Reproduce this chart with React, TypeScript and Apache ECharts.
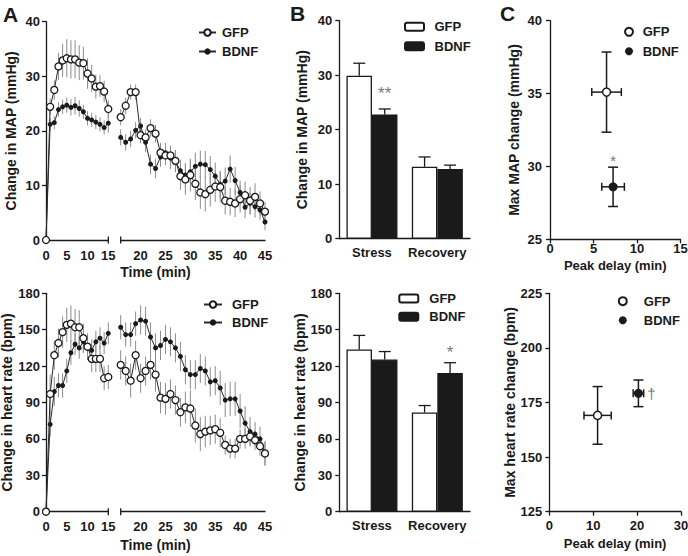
import React, { useEffect, useRef } from 'react';
import * as echarts from 'echarts';

// ---------- Panel A: time courses ----------
const timeStress = [0, 1, 2, 3, 4, 5, 6, 7, 8, 9, 10, 11, 12, 13, 14, 15];
const timeRecovery = [16, 17, 18, 19, 20, 21, 22, 23, 24, 25, 26, 27, 28, 29, 30, 31, 32, 33, 34, 35, 36, 37, 38, 39, 40, 41, 42, 43, 44, 45];
const recoveryTickLabels = [20, 25, 30, 35, 40, 45];

const mapGfpStress = [0, 24.4, 27.5, 31.8, 32.9, 33.3, 33.1, 33.1, 32.5, 32.4, 30.5, 29.6, 28.1, 28.2, 27.2, 24.0];
const mapGfpStressErr = [0, 1.5, 1.8, 2.5, 3.0, 3.5, 3.5, 3.5, 3.2, 3.0, 2.8, 2.5, 2.2, 2.0, 2.0, 1.6];
const mapBdnfStress = [0, 21.2, 21.5, 23.9, 24.4, 24.7, 24.3, 24.6, 24.1, 23.5, 22.3, 22.0, 21.6, 21.2, 20.6, 21.4];
const mapBdnfStressErr = [0, 1.2, 1.2, 1.3, 1.3, 1.4, 1.5, 1.6, 1.5, 1.3, 1.3, 1.3, 1.3, 1.3, 1.3, 1.7];
const mapGfpRecovery = [22.5, 24.6, 27.1, 27.1, 19.2, 18.8, 20.5, 19.5, 16.0, 15.5, 15.5, 14.5, 11.7, 11.1, 11.9, 10.3, 8.7, 8.4, 9.2, 9.8, 9.7, 7.2, 7.0, 6.7, 7.5, 8.2, 7.2, 7.9, 6.7, 5.2];
const mapGfpRecoveryErr = [1.5, 1.5, 1.4, 1.4, 1.5, 1.5, 1.6, 1.6, 1.8, 1.8, 1.8, 2.0, 2.5, 2.8, 3.0, 3.0, 3.0, 3.2, 3.0, 2.8, 2.8, 2.5, 2.5, 2.5, 2.5, 2.5, 2.5, 2.5, 2.2, 1.8];
const mapBdnfRecovery = [18.8, 17.9, 18.5, 20.1, 20.9, 17.9, 13.9, 13.1, 15.2, 16.0, 15.0, 14.4, 12.7, 11.9, 12.5, 13.5, 13.9, 13.8, 12.9, 11.7, 10.2, 10.8, 13.0, 10.9, 8.7, 6.0, 6.7, 6.1, 5.5, 3.3];
const mapBdnfRecoveryErr = [1.5, 1.5, 1.5, 1.5, 1.5, 1.8, 1.8, 1.8, 1.8, 1.8, 2.0, 2.0, 2.0, 2.2, 2.2, 2.5, 2.5, 2.5, 2.5, 2.5, 2.5, 2.5, 2.5, 2.5, 2.2, 2.0, 2.0, 2.0, 1.8, 1.5];

const hrGfpStress = [0, 97, 129, 139, 148, 154, 155, 152, 152, 143, 136, 126, 126, 126, 110, 111];
const hrGfpStressErr = [0, 16, 12, 12, 13, 14, 15, 15, 14, 12, 11, 11, 11, 11, 10, 10];
const hrBdnfStress = [0, 72, 99, 104, 104, 116, 131, 138, 135, 140, 135, 133, 140, 143, 139, 147];
const hrBdnfStressErr = [0, 10, 12, 10, 10, 10, 10, 9, 9, 9, 9, 9, 9, 9, 9, 9];
const hrGfpRecovery = [121, 116, 108, 129, 110, 116, 121, 113, 94, 93, 97, 92, 82, 86, 85, 71, 64, 66, 67, 68, 65, 55, 52, 52, 60, 60, 62, 59, 54, 48];
const hrGfpRecoveryErr = [12, 12, 14, 12, 12, 12, 12, 14, 13, 13, 12, 12, 12, 13, 15, 14, 14, 13, 12, 12, 12, 8, 8, 8, 8, 8, 8, 8, 8, 10];
const hrBdnfRecovery = [152, 146, 146, 155, 158, 157, 144, 135, 137, 142, 140, 135, 128, 117, 113, 113, 118, 116, 107, 108, 102, 92, 93, 93, 83, 73, 66, 64, 60, 48];
const hrBdnfRecoveryErr = [10, 10, 10, 10, 12, 12, 12, 12, 12, 12, 12, 12, 12, 12, 12, 12, 12, 12, 12, 12, 14, 14, 14, 14, 14, 14, 12, 10, 10, 10];

// ---------- Panel B: bars ----------
const barCategories = ['Stress', 'Recovery'];
const mapGfpBars = [29.9, 13.2];
const mapGfpBarsErr = [2.3, 1.8];
const mapBdnfBars = [22.8, 12.8];
const mapBdnfBarsErr = [1.0, 0.7];
const mapBdnfSig = ['**', ''];
const hrGfpBars = [133.7, 81.7];
const hrGfpBarsErr = [11.6, 5.8];
const hrBdnfBars = [125.4, 114.3];
const hrBdnfBarsErr = [6.6, 8.5];
const hrBdnfSig = ['', '*'];

// ---------- Panel C: peak scatter (index 0 = GFP, 1 = BDNF) ----------
const cMapDelay = [6.5, 7.25];
const cMapDelayErr = [1.7, 1.3];
const cMapMax = [35.1, 28.6];
const cMapMaxErr = [2.75, 1.35];
const cMapSig = ['', '*'];
const cHrDelay = [11.0, 20.3];
const cHrDelayErr = [3.1, 1.2];
const cHrMax = [169.1, 179.2];
const cHrMaxErr = [13.2, 6.1];
const cHrSig = ['', '†'];

const FONT = '"Liberation Sans", Arial, Helvetica, sans-serif';
const INK = '#1a1a1a';
const ERR_GRAY = '#8c8c8c';
const SIG_GRAY = '#777777';
const BAR_W = 25.5;

const axisLine = { show: true, lineStyle: { color: INK, width: 1.3 } };
const tickOut = { show: true, inside: false, length: 4, lineStyle: { color: INK, width: 1.3 } };
const lbl = (margin: number, extra: any = {}) => ({
  color: INK, fontSize: 13, fontWeight: 'bold', fontFamily: FONT, margin, ...extra,
});
const nameStyle = (size: number) => ({ color: INK, fontSize: size, fontWeight: 'bold', fontFamily: FONT });

function lineSeries(name: string, times: number[], vals: number[], open: boolean, ai: number) {
  return {
    type: 'line', name, xAxisIndex: ai, yAxisIndex: ai,
    data: times.map((t, i) => [t, vals[i]]),
    symbol: 'circle', symbolSize: open ? 7 : 5, showSymbol: true, clip: false,
    z: open ? 4 : 3, silent: true,
    lineStyle: { color: '#2a2a2a', width: 1 },
    itemStyle: open
      ? { color: '#ffffff', borderColor: INK, borderWidth: 1.3, opacity: 1 }
      : { color: INK, borderColor: INK, borderWidth: 0, opacity: 1 },
  };
}

function timeErrSeries(times: number[], vals: number[], errs: number[], ai: number) {
  return {
    type: 'custom', xAxisIndex: ai, yAxisIndex: ai, z: 1, silent: true,
    data: times.map((t, i) => [t, vals[i], errs[i]]),
    encode: { x: 0, y: 1 },
    renderItem: (params: any, api: any) => {
      const x = api.value(0), y = api.value(1), e = api.value(2);
      if (!e) return { type: 'group', children: [] };
      const lo = api.coord([x, y - e]);
      const hi = api.coord([x, y + e]);
      return {
        type: 'line',
        shape: { x1: lo[0], y1: lo[1], x2: hi[0], y2: hi[1] },
        style: { stroke: ERR_GRAY, lineWidth: 1 },
      };
    },
  };
}

function barSeries(name: string, vals: number[], filled: boolean, ai: number) {
  return {
    type: 'bar', name, xAxisIndex: ai, yAxisIndex: ai, data: vals,
    barWidth: BAR_W, barGap: '0%', silent: true, z: 2,
    itemStyle: filled
      ? { color: INK, borderColor: INK, borderWidth: 1.3 }
      : { color: '#ffffff', borderColor: INK, borderWidth: 1.3 },
  };
}

function barErrSeries(vals: number[], errs: number[], sigs: string[], side: number, ai: number, sigOffset: number) {
  return {
    type: 'custom', xAxisIndex: ai, yAxisIndex: ai, z: 3, silent: true,
    data: barCategories.map((c, i) => [i, vals[i], errs[i]]),
    encode: { x: 0, y: 1 },
    renderItem: (params: any, api: any) => {
      const i = api.value(0), v = api.value(1), e = api.value(2);
      const base = api.coord([i, v]);
      const top = api.coord([i, v + e]);
      const cx = base[0] + side * BAR_W / 2;
      const children: any[] = [
        { type: 'line', shape: { x1: cx, y1: base[1], x2: cx, y2: top[1] }, style: { stroke: INK, lineWidth: 1.3 } },
        { type: 'line', shape: { x1: cx - 6, y1: top[1], x2: cx + 6, y2: top[1] }, style: { stroke: INK, lineWidth: 1.3 } },
      ];
      const s = sigs[params.dataIndex];
      if (s) {
        children.push({
          type: 'text',
          style: { text: s, x: cx, y: top[1] - sigOffset, align: 'center', verticalAlign: 'middle', fontSize: 17, fontFamily: FONT, fill: SIG_GRAY },
        });
      }
      return { type: 'group', children };
    },
  };
}

function scatterSeries(name: string, x: number, y: number, open: boolean, ai: number) {
  return {
    type: 'scatter', name, xAxisIndex: ai, yAxisIndex: ai, data: [[x, y]],
    symbol: 'circle', symbolSize: open ? 8 : 9, z: 4, silent: true,
    itemStyle: open
      ? { color: '#ffffff', borderColor: INK, borderWidth: 1.5, opacity: 1 }
      : { color: INK, borderColor: INK, borderWidth: 0, opacity: 1 },
  };
}

function crossErrSeries(xs: number[], xe: number[], ys: number[], ye: number[], sigs: string[], ai: number, sigPos: 'top' | 'right') {
  return {
    type: 'custom', xAxisIndex: ai, yAxisIndex: ai, z: 3, silent: true,
    data: xs.map((x, i) => [x, ys[i], xe[i], ye[i]]),
    encode: { x: 0, y: 1 },
    renderItem: (params: any, api: any) => {
      const x = api.value(0), y = api.value(1), ex = api.value(2), ey = api.value(3);
      const c = api.coord([x, y]);
      const l = api.coord([x - ex, y]);
      const r = api.coord([x + ex, y]);
      const t = api.coord([x, y + ey]);
      const b = api.coord([x, y - ey]);
      const st = { stroke: INK, lineWidth: 1.5 };
      const children: any[] = [
        { type: 'line', shape: { x1: l[0], y1: c[1], x2: r[0], y2: c[1] }, style: st },
        { type: 'line', shape: { x1: c[0], y1: t[1], x2: c[0], y2: b[1] }, style: st },
        { type: 'line', shape: { x1: l[0], y1: c[1] - 4, x2: l[0], y2: c[1] + 4 }, style: st },
        { type: 'line', shape: { x1: r[0], y1: c[1] - 4, x2: r[0], y2: c[1] + 4 }, style: st },
        { type: 'line', shape: { x1: c[0] - 5, y1: t[1], x2: c[0] + 5, y2: t[1] }, style: st },
        { type: 'line', shape: { x1: c[0] - 5, y1: b[1], x2: c[0] + 5, y2: b[1] }, style: st },
      ];
      const s = sigs[params.dataIndex];
      if (s) {
        const pos = sigPos === 'top' ? { x: c[0], y: t[1] - 7 } : { x: c[0] + 13, y: c[1] };
        children.push({
          type: 'text',
          style: { text: s, ...pos, align: 'center', verticalAlign: 'middle', fontSize: 15, fontFamily: FONT, fill: SIG_GRAY },
        });
      }
      return { type: 'group', children };
    },
  };
}

function legend(names: string[], left: number, top: number, itemWidth: number, itemHeight: number, gap: number, pad: number) {
  return {
    data: names, orient: 'vertical', left, top, padding: 0,
    itemWidth, itemHeight, itemGap: gap, selectedMode: false,
    formatter: (n: string) => `{t|${n.split('#')[0]}}`,
    textStyle: {
      rich: { t: { fontSize: 13, fontWeight: 'bold', fontFamily: FONT, color: INK, lineHeight: 14, padding: [0, 0, 0, pad] } },
    },
  };
}

export default function App() {
  const ref = useRef<HTMLDivElement>(null);

  useEffect(() => {
    if (!ref.current) return;
    const chart = echarts.init(ref.current, null, { renderer: 'svg' });

    const grids = [
      { left: 46, top: 21.7, width: 62.3, height: 218.3 },
      { left: 120.7, top: 21.7, width: 144.3, height: 218.3 },
      { left: 46, top: 293.3, width: 62.3, height: 218.4 },
      { left: 120.7, top: 293.3, width: 144.3, height: 218.4 },
      { left: 339.3, top: 20.7, width: 130.7, height: 218 },
      { left: 339.3, top: 293.3, width: 130.7, height: 218.4 },
      { left: 550, top: 20.7, width: 130.5, height: 218.6 },
      { left: 549.3, top: 293.3, width: 131.7, height: 218.4 },
    ].map((g) => ({ ...g, outerBoundsMode: 'none', containLabel: false }));

    const xAxis: any[] = [
      { gridIndex: 0, type: 'value', min: 0, max: 15, interval: 5, axisLine, axisTick: { show: false }, splitLine: { show: false }, axisLabel: lbl(9) },
      { gridIndex: 1, type: 'value', min: 16, max: 45, axisLine, axisTick: { show: false }, splitLine: { show: false }, axisLabel: lbl(9, { customValues: recoveryTickLabels }) },
      { gridIndex: 2, type: 'value', min: 0, max: 15, interval: 5, axisLine, axisTick: { show: false }, splitLine: { show: false }, axisLabel: lbl(8) },
      { gridIndex: 3, type: 'value', min: 16, max: 45, axisLine, axisTick: { show: false }, splitLine: { show: false }, axisLabel: lbl(8, { customValues: recoveryTickLabels }) },
      { gridIndex: 4, type: 'category', data: barCategories, axisLine, axisTick: { show: false }, axisLabel: lbl(7, { interval: 0 }) },
      { gridIndex: 5, type: 'category', data: barCategories, axisLine, axisTick: { show: false }, axisLabel: lbl(7, { interval: 0 }) },
      { gridIndex: 6, type: 'value', min: 0, max: 15, interval: 5, axisLine, axisTick: tickOut, splitLine: { show: false }, axisLabel: lbl(3),
        name: 'Peak delay (min)', nameLocation: 'middle', nameGap: 20, nameTextStyle: nameStyle(13) },
      { gridIndex: 7, type: 'value', min: 0, max: 30, interval: 10, axisLine, axisTick: tickOut, splitLine: { show: false }, axisLabel: lbl(7),
        name: 'Peak delay (min)', nameLocation: 'middle', nameGap: 25, nameTextStyle: nameStyle(13) },
    ];

    const yAxis: any[] = [
      { gridIndex: 0, type: 'value', min: 0, max: 40, interval: 10, axisLine, axisTick: tickOut, splitLine: { show: false }, axisLabel: lbl(6),
        name: 'Change in MAP (mmHg)', nameLocation: 'middle', nameGap: 28, nameTextStyle: nameStyle(14) },
      { gridIndex: 1, type: 'value', min: 0, max: 40, interval: 10, show: false },
      { gridIndex: 2, type: 'value', min: 0, max: 180, interval: 30, axisLine, axisTick: tickOut, splitLine: { show: false }, axisLabel: lbl(6),
        name: 'Change in heart rate (bpm)', nameLocation: 'middle', nameGap: 29, nameTextStyle: nameStyle(14) },
      { gridIndex: 3, type: 'value', min: 0, max: 180, interval: 30, show: false },
      { gridIndex: 4, type: 'value', min: 0, max: 40, interval: 10, axisLine, axisTick: tickOut, splitLine: { show: false }, axisLabel: lbl(7),
        name: 'Change in MAP (mmHg)', nameLocation: 'middle', nameGap: 30, nameTextStyle: nameStyle(14) },
      { gridIndex: 5, type: 'value', min: 0, max: 180, interval: 30, axisLine, axisTick: tickOut, splitLine: { show: false }, axisLabel: lbl(7),
        name: 'Change in heart rate (bpm)', nameLocation: 'middle', nameGap: 30, nameTextStyle: nameStyle(14) },
      { gridIndex: 6, type: 'value', min: 25, max: 40, interval: 5, axisLine, axisTick: tickOut, splitLine: { show: false }, axisLabel: lbl(8),
        name: 'Max MAP change (mmHg)', nameLocation: 'middle', nameGap: 29, nameTextStyle: nameStyle(14) },
      { gridIndex: 7, type: 'value', min: 125, max: 225, interval: 25, axisLine, axisTick: tickOut, splitLine: { show: false }, axisLabel: lbl(7),
        name: 'Max heart rate change (bpm)', nameLocation: 'middle', nameGap: 29, nameTextStyle: nameStyle(14) },
    ];

    const series: any[] = [
      // A top
      timeErrSeries(timeStress, mapGfpStress, mapGfpStressErr, 0),
      timeErrSeries(timeStress, mapBdnfStress, mapBdnfStressErr, 0),
      timeErrSeries(timeRecovery, mapGfpRecovery, mapGfpRecoveryErr, 1),
      timeErrSeries(timeRecovery, mapBdnfRecovery, mapBdnfRecoveryErr, 1),
      lineSeries('GFP#a', timeStress, mapGfpStress, true, 0),
      lineSeries('BDNF#a', timeStress, mapBdnfStress, false, 0),
      lineSeries('GFP#a2', timeRecovery, mapGfpRecovery, true, 1),
      lineSeries('BDNF#a2', timeRecovery, mapBdnfRecovery, false, 1),
      // A bottom
      timeErrSeries(timeStress, hrGfpStress, hrGfpStressErr, 2),
      timeErrSeries(timeStress, hrBdnfStress, hrBdnfStressErr, 2),
      timeErrSeries(timeRecovery, hrGfpRecovery, hrGfpRecoveryErr, 3),
      timeErrSeries(timeRecovery, hrBdnfRecovery, hrBdnfRecoveryErr, 3),
      lineSeries('GFP#h', timeStress, hrGfpStress, true, 2),
      lineSeries('BDNF#h', timeStress, hrBdnfStress, false, 2),
      lineSeries('GFP#h2', timeRecovery, hrGfpRecovery, true, 3),
      lineSeries('BDNF#h2', timeRecovery, hrBdnfRecovery, false, 3),
      // B top
      barSeries('GFP#b', mapGfpBars, false, 4),
      barSeries('BDNF#b', mapBdnfBars, true, 4),
      barErrSeries(mapGfpBars, mapGfpBarsErr, ['', ''], -1, 4, 15),
      barErrSeries(mapBdnfBars, mapBdnfBarsErr, mapBdnfSig, 1, 4, 15),
      // B bottom
      barSeries('GFP#bh', hrGfpBars, false, 5),
      barSeries('BDNF#bh', hrBdnfBars, true, 5),
      barErrSeries(hrGfpBars, hrGfpBarsErr, ['', ''], -1, 5, 10),
      barErrSeries(hrBdnfBars, hrBdnfBarsErr, hrBdnfSig, 1, 5, 10),
      // C top
      crossErrSeries(cMapDelay, cMapDelayErr, cMapMax, cMapMaxErr, cMapSig, 6, 'top'),
      scatterSeries('GFP#c', cMapDelay[0], cMapMax[0], true, 6),
      scatterSeries('BDNF#c', cMapDelay[1], cMapMax[1], false, 6),
      // C bottom
      crossErrSeries(cHrDelay, cHrDelayErr, cHrMax, cHrMaxErr, cHrSig, 7, 'right'),
      scatterSeries('GFP#ch', cHrDelay[0], cHrMax[0], true, 7),
      scatterSeries('BDNF#ch', cHrDelay[1], cHrMax[1], false, 7),
    ];

    const capStyle = { stroke: INK, lineWidth: 1.3 };
    const letter = (t: string, x: number, y: number) => ({
      type: 'text', left: x, top: y,
      style: { text: t, fontSize: 21, fontWeight: 'bold', fontFamily: FONT, fill: INK },
    });
    const axisTitle = (t: string, cx: number, cy: number) => ({
      type: 'text', x: cx, y: cy,
      style: { text: t, align: 'center', verticalAlign: 'middle', fontSize: 14, fontWeight: 'bold', fontFamily: FONT, fill: INK },
    });

    chart.setOption({
      animation: false,
      backgroundColor: '#ffffff',
      grid: grids,
      xAxis,
      yAxis,
      legend: [
        legend(['GFP#a', 'BDNF#a'], 198, 26, 17, 8, 6, 1),
        legend(['GFP#h', 'BDNF#h'], 203, 298, 18, 8, 5, 5),
        legend(['GFP#b', 'BDNF#b'], 404, 20.3, 19, 8, 6.4, 5.5),
        legend(['GFP#bh', 'BDNF#bh'], 398.3, 292, 19, 8, 5.3, 6),
        legend(['GFP#c', 'BDNF#c'], 624, 25.3, 8, 8, 6.4, 4.7),
        legend(['GFP#ch', 'BDNF#ch'], 617.8, 294.7, 8, 8, 6, 12),
      ],
      series,
      graphic: [
        letter('A', 3, 4),
        letter('B', 290, 3),
        letter('C', 500, 3),
        axisTitle('Time (min)', 155.5, 272),
        axisTitle('Time (min)', 155.5, 545),
        { type: 'line', shape: { x1: 108.3, y1: 236.5, x2: 108.3, y2: 243.5 }, style: capStyle },
        { type: 'line', shape: { x1: 120.7, y1: 236.5, x2: 120.7, y2: 243.5 }, style: capStyle },
        { type: 'line', shape: { x1: 108.3, y1: 508.2, x2: 108.3, y2: 515.2 }, style: capStyle },
        { type: 'line', shape: { x1: 120.7, y1: 508.2, x2: 120.7, y2: 515.2 }, style: capStyle },
      ],
    });

    return () => chart.dispose();
  }, []);

  return (
    <div
      ref={ref}
      style={{ position: 'absolute', left: 0, top: 0, width: 688, height: 556, background: '#fff' }}
    />
  );
}
